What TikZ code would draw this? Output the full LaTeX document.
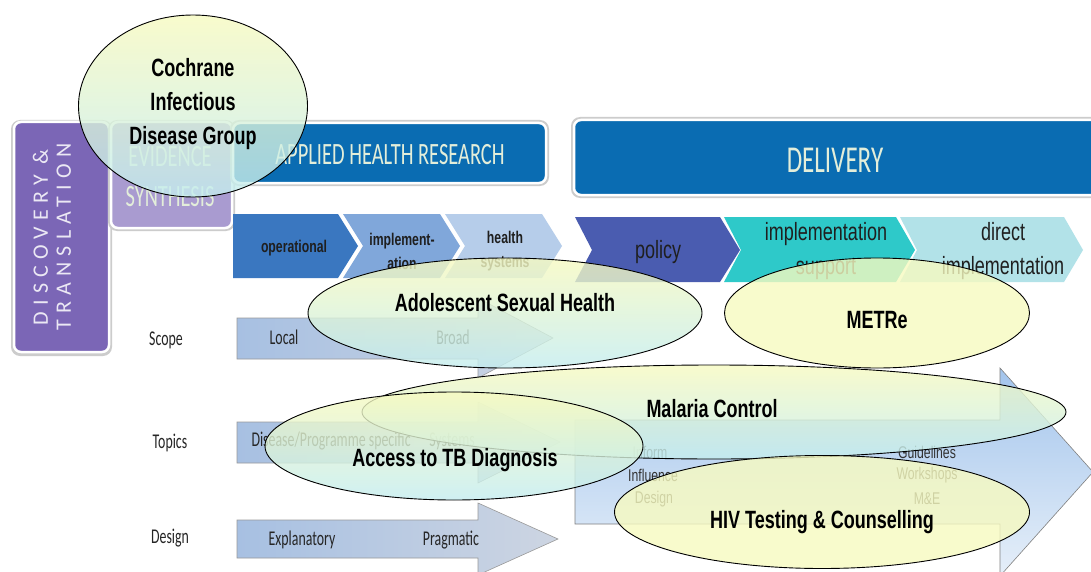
\documentclass[tikz,border=0pt]{standalone}
\usepackage{fontspec}
\setmainfont{Liberation Sans}
\newfontfamily\narrowfont[FakeStretch=0.72]{Liberation Sans}
\newfontfamily\calfont[FakeStretch=0.66]{Carlito}
\newfontfamily\spacedfont[LetterSpace=28]{Carlito}
\usepackage{xcolor}
\usepackage{tikz}
\usetikzlibrary{shapes.geometric}

\definecolor{discoveryPurple}{HTML}{7B66B6}
\definecolor{synthesisPurple}{HTML}{A99BD0}
\definecolor{headerBlue}{HTML}{0A6CB2}
\definecolor{paleText}{HTML}{E3EEDA}
\definecolor{opBlue}{HTML}{3A77C0}
\definecolor{implBlue}{HTML}{80A7DA}
\definecolor{hsBlue}{HTML}{B6CDEA}
\definecolor{policyBlue}{HTML}{4A5CB0}
\definecolor{supportTeal}{HTML}{2EC9C9}
\definecolor{directCyan}{HTML}{B2E2E8}
\definecolor{blobYellow}{HTML}{F7FAC0}
\definecolor{blobCyan}{HTML}{C4EDF0}
\definecolor{arrowLeft}{HTML}{A7C0E2}
\definecolor{arrowRight}{HTML}{CDD5E2}
\definecolor{bigTop}{HTML}{A2C4EC}
\definecolor{bigBottom}{HTML}{E6EFF9}

\begin{document}
\begin{tikzpicture}[x=1pt,y=-1pt,
	shadowbox/.style={rounded corners=9pt, fill=black!20},
	header/.style={rounded corners=7pt, draw=white, line width=2.5pt},
	headtext/.style={font=\calfont\fontsize{#1}{#1}\selectfont, text=paleText},
	chevtext/.style={font=\narrowfont\bfseries\fontsize{17}{24}\selectfont, align=center, text=black!88},
	delitext/.style={font=\narrowfont\fontsize{25}{34}\selectfont, align=center, text=black!88},
	rowlabel/.style={font=\calfont\fontsize{21}{21}\selectfont, text=black!85},
	scalearrow/.style={left color=arrowLeft, right color=arrowRight, draw=black!40, line width=0.6pt},
	inarrow/.style={font=\narrowfont\fontsize{17}{17}\selectfont, text=black!80},
	blob/.style={ellipse, draw=black, line width=0.9pt, inner sep=0pt, top color=blobYellow, bottom color=blobCyan, fill opacity=0.8},
	flatblob/.style={blob, top color=blobYellow, bottom color=blobYellow},
	blobtext/.style={font=\narrowfont\bfseries\fontsize{25}{34}\selectfont, align=center, text=black}]
	\useasboundingbox (0,0) rectangle (1091,572);
	\clip (0,0) rectangle (1091,572);
	\fill[white] (0,0) rectangle (1091,572);

	\fill[shadowbox] (11,120) rectangle (112,356);
	\draw[header, fill=discoveryPurple] (14,122) rectangle (109,352);
	\fill[shadowbox] (108,120) rectangle (235,231);
	\draw[header, fill=synthesisPurple] (111,122) rectangle (232,228);
	\fill[shadowbox] (230,120) rectangle (549,186);
	\draw[header, fill=headerBlue] (233,123) rectangle (546,183);
	\fill[shadowbox] (571,117) rectangle (1110,198);
	\draw[header, fill=headerBlue] (574,120) rectangle (1110,195);

	\node[font=\spacedfont\fontsize{22}{23}\selectfont, text=white!85!discoveryPurple, align=center, rotate=90] (discovery) at (52,237) {DISCOVERY \&\\TRANSLATION};
	\node[font=\calfont\fontsize{31}{40}\selectfont, text=paleText, align=center] (synthesis) at (170,177) {EVIDENCE\\SYNTHESIS};
	\node[headtext=31] (applied) at (390,155) {APPLIED HEALTH RESEARCH};
	\node[headtext=38] (delivery) at (835,160) {DELIVERY};

	\fill[opBlue] (233,214) -- (338,214) -- (358,246) -- (338,278) -- (233,278) -- cycle;
	\fill[implBlue] (343,214) -- (440,214) -- (460,246) -- (440,278) -- (343,278) -- (363,246) -- cycle;
	\fill[hsBlue] (445,214) -- (542,214) -- (562,246) -- (542,278) -- (445,278) -- (465,246) -- cycle;
	\fill[policyBlue] (575,217) -- (720,217) -- (740,250) -- (720,282) -- (575,282) -- (592,250) -- cycle;
	\fill[supportTeal] (724,217) -- (896,217) -- (915,250) -- (896,282) -- (724,282) -- (741,250) -- cycle;
	\fill[directCyan] (900,217) -- (1064,217) -- (1083,250) -- (1064,282) -- (900,282) -- (917,250) -- cycle;

	\node[chevtext] (operational) at (294,248) {operational};
	\node[chevtext] (implementation) at (402,251) {implement-\\ation};
	\node[chevtext] (healthsys) at (505,251) {health\\systems};
	\node[delitext] (policy) at (658,252) {policy};
	\node[delitext] (implsupport) at (826,251) {implementation\\support};
	\node[delitext] (directimpl) at (1003,251) {direct\\implementation};

	\node[rowlabel] (scope) at (166,340) {Scope};
	\node[rowlabel] (topics) at (170,443) {Topics};
	\node[rowlabel] (design) at (170,538) {Design};

	\draw[scalearrow] (237,318) -- (478,318) -- (478,298) -- (553,338) -- (478,378) -- (478,359) -- (237,359) -- cycle;
	\draw[scalearrow] (237,422) -- (478,422) -- (478,402) -- (560,442) -- (478,483) -- (478,463) -- (237,463) -- cycle;
	\draw[scalearrow] (237,520) -- (478,520) -- (478,503) -- (558,539) -- (478,575) -- (478,558) -- (237,558) -- cycle;

	\node[rowlabel] (local) at (284,337) {Local};
	\node[rowlabel] (broad) at (453,337) {Broad};
	\node[rowlabel, anchor=west] (diseasespec) at (248,441) {Disease/Programme specific};
	\node[rowlabel] (systems) at (452,441) {Systems};
	\node[rowlabel] (explanatory) at (302,540) {Explanatory};
	\node[rowlabel] (pragmatic) at (451,540) {Pragmatic};

	\draw[top color=bigTop, bottom color=bigBottom, draw=black!50, line width=0.6pt] (575,420) -- (1000,420) -- (1000,368) -- (1093,472) -- (1000,576) -- (1000,524) -- (575,524) -- cycle;
	\node[inarrow] (inform) at (650,452) {Inform};
	\node[inarrow] (influence) at (653,475) {Influence};
	\node[inarrow] (designtxt) at (654,499) {Design};
	\node[inarrow] (guidelines) at (927,452) {Guidelines};
	\node[inarrow] (workshops) at (927,475) {Workshops};
	\node[inarrow] (mande) at (927,499) {M\&E};

	\node[blob, minimum width=229pt, minimum height=182pt] (cochraneE) at (193,106) {};
	\node[blob, minimum width=394pt, minimum height=110pt] (adolescentE) at (505,313) {};
	\node[flatblob, minimum width=305pt, minimum height=110pt] (metreE) at (877,313) {};
	\node[blob, minimum width=704pt, minimum height=94pt] (malariaE) at (714,412) {};
	\node[blob, minimum width=378pt, minimum height=108pt] (tbE) at (454,446) {};
	\node[flatblob, minimum width=415pt, minimum height=113pt] (hivE) at (822,512) {};

	\node[blobtext] (cochrane) at (193,104) {Cochrane\\Infectious\\Disease Group};
	\node[blobtext] (adolescent) at (505,303) {Adolescent Sexual Health};
	\node[blobtext] (metre) at (877,320) {METRe};
	\node[blobtext] (malaria) at (712,409) {Malaria Control};
	\node[blobtext] (tb) at (455,460) {Access to TB Diagnosis};
	\node[blobtext] (hiv) at (822,522) {HIV Testing \& Counselling};
\end{tikzpicture}
\end{document}
